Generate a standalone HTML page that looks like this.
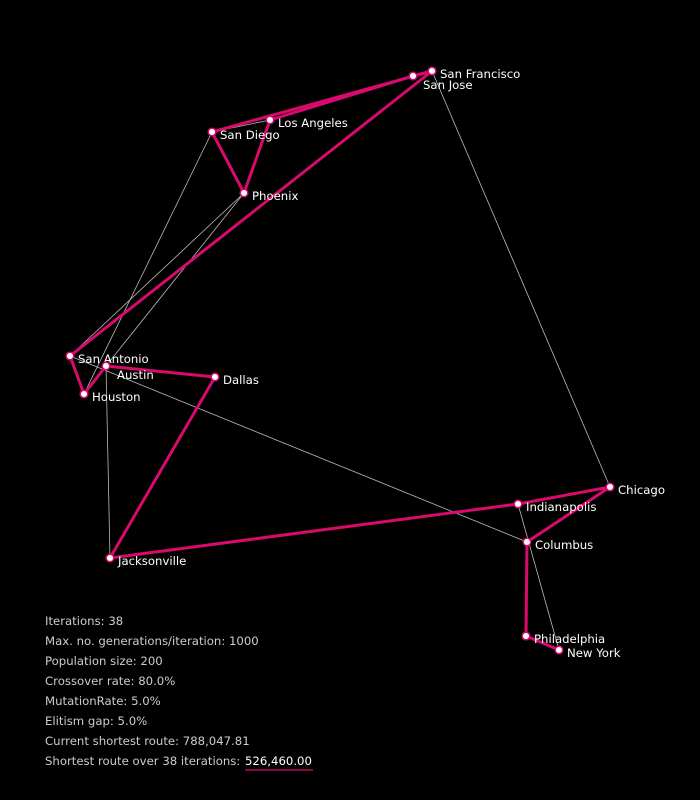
<!DOCTYPE html>
<html><head><meta charset="utf-8"><style>
html,body{margin:0;padding:0;background:#000;}
svg{display:block;}
text{font-family:"DejaVu Sans","Liberation Sans",sans-serif;font-size:11.7px;}
</style></head><body>
<svg width="700" height="800">
<rect width="700" height="800" fill="#000"/>
<g id="grey"></g>
<g id="pink"></g>
<g id="nodes"></g>
<g id="stats"></g>
</svg>
<script>
const cityNames=["San Francisco","San Jose","Los Angeles","San Diego","Phoenix","San Antonio","Austin","Houston","Dallas","Jacksonville","Indianapolis","Chicago","Columbus","Philadelphia","New York"];
const cityX=[432,413,270,212,244,70,106,84,215,110,518,610,527,526,559];
const cityY=[71,76,120,132,193,356,366,394,377,558,504,487,542,636,650];
const bestRoute=[[5,0],[0,1],[1,2],[2,4],[4,3],[3,0],[5,7],[7,6],[6,8],[8,9],[9,10],[10,11],[11,12],[12,13],[13,14]];
const prevRoute=[[3,2],[0,11],[3,7],[4,5],[4,6],[5,12],[6,9],[10,14]];
const statLabels=["Iterations: 38","Max. no. generations/iteration: 1000","Population size: 200","Crossover rate: 80.0%","MutationRate: 5.0%","Elitism gap: 5.0%","Current shortest route: 788,047.81","Shortest route over 38 iterations: "];
const bestValue="526,460.00";
const NS="http://www.w3.org/2000/svg";
function mk(t,a,p){const e=document.createElementNS(NS,t);for(const k in a)e.setAttribute(k,a[k]);p.appendChild(e);return e;}
const grey=document.getElementById('grey'),pink=document.getElementById('pink'),nodes=document.getElementById('nodes'),stats=document.getElementById('stats');
prevRoute.forEach(([a,b])=>{const l=mk('line',{x1:cityX[a],y1:cityY[a],x2:cityX[b],y2:cityY[b],stroke:'#bbb','stroke-width':0.8},grey);

});
bestRoute.forEach(([a,b])=>{const l=mk('line',{x1:cityX[a],y1:cityY[a],x2:cityX[b],y2:cityY[b],stroke:'#d80a6c','stroke-width':3},pink);

});
const offs={1:[10,14],6:[11,14]};
cityNames.forEach((n,i)=>{const c=mk('circle',{cx:cityX[i],cy:cityY[i],r:3.8,fill:'#fff',stroke:'#d80a6c','stroke-width':1.5},nodes);


const o=offs[i]||[8,8];
const t=mk('text',{x:cityX[i]+o[0],y:cityY[i]+o[1]-1,fill:'#fff'},nodes);t.textContent=n;

});
statLabels.forEach((s,i)=>{const t=mk('text',{x:45,y:625+i*20,fill:'#ccc'},stats);t.textContent=s;

});
const v=mk('text',{x:245,y:765,fill:'#fff'},stats);v.textContent=bestValue;


const u=mk('line',{x1:245,y1:770,x2:313,y2:770,stroke:'#d80a6c','stroke-width':1.2},stats);


</script>
</body></html>
